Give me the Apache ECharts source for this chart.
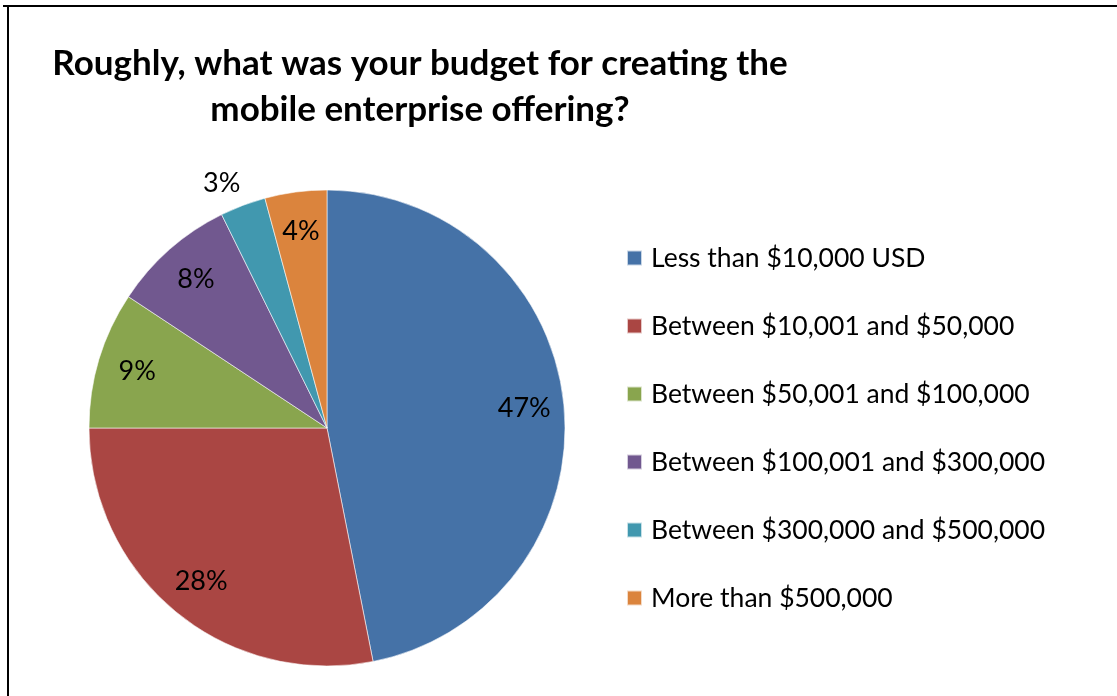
<!DOCTYPE html>
<html>
<head>
<meta charset="utf-8">
<script src="https://cdn.jsdelivr.net/npm/echarts@6/dist/echarts.min.js"></script>
<style>
  html, body { margin: 0; padding: 0; background: #fff; }
  #chart { width: 1117px; height: 696px; }
</style>
</head>
<body>
<div id="chart"></div>
<script>
// Budget brackets and their share of respondents (%)
const categories = [
  'Less than $10,000 USD',
  'Between $10,001 and $50,000',
  'Between $50,001 and $100,000',
  'Between $100,001 and $300,000',
  'Between $300,000 and $500,000',
  'More than $500,000'
];
const shares = [46.9, 28.1, 9.3, 8.4, 3.1, 4.2];
const colors = ['#4572A7', '#AA4643', '#89A54E', '#71588F', '#4198AF', '#DB843D'];
// the smallest slice carries its label outside the pie
const outsideLabelIndex = 4;

const FONT = 'Lato';
const CX = 327, CY = 428, R = 238;

const pieData = categories.map((name, i) => ({
  name, value: shares[i], itemStyle: { color: colors[i] }
}));

const chart = echarts.init(document.getElementById('chart'), null, { renderer: 'canvas' });

const labelText = {
  color: '#000', fontFamily: FONT, fontSize: 27,
  formatter: p => Math.round(p.percent) + '%'
};

chart.setOption({
  backgroundColor: '#fff',
  animation: false,
  title: {
    text: 'Roughly, what was your budget for creating the\nmobile enterprise offering?',
    left: 415, top: 36, textAlign: 'center',
    textStyle: { fontFamily: FONT, fontSize: 35, fontWeight: 'bold', color: '#000', lineHeight: 46 }
  },
  legend: {
    orient: 'vertical',
    left: 626, top: 244, padding: 0,
    itemWidth: 15, itemHeight: 15, itemGap: 40,
    icon: 'rect',
    textStyle: { fontFamily: FONT, fontSize: 26.5, color: '#000', lineHeight: 28, padding: [0, 0, 0, 4] },
    data: categories
  },
  graphic: [
    { type: 'line', shape: { x1: 3, y1: 6, x2: 1117, y2: 6 }, style: { stroke: '#000', lineWidth: 2 } },
    { type: 'line', shape: { x1: 8, y1: 5, x2: 8, y2: 696 }, style: { stroke: '#000', lineWidth: 2 } }
  ],
  series: [
    {
      type: 'pie',
      name: 'slices',
      center: [CX, CY], radius: [0, R],
      startAngle: 90, clockwise: true,
      label: { show: false }, labelLine: { show: false },
      itemStyle: { borderColor: 'rgba(255,255,255,0.7)', borderWidth: 0.8 },
      emphasis: { disabled: true },
      data: pieData
    },
    {
      // ring whose middle sits near the outer part of each slice, used only for labels
      type: 'pie',
      name: 'inner-labels',
      center: [CX, CY], radius: [R * 0.64, R],
      startAngle: 90, clockwise: true, silent: true,
      legendHoverLink: false,
      labelLine: { show: false },
      emphasis: { disabled: true },
      data: pieData.map((d, i) => ({
        name: d.name, value: d.value,
        itemStyle: { color: 'rgba(0,0,0,0)' },
        label: Object.assign({ show: i !== outsideLabelIndex, position: 'inside' }, labelText)
      }))
    },
    {
      // ring just outside the pie for the label of the thinnest slice
      type: 'pie',
      name: 'outer-labels',
      center: [CX, CY], radius: [R, R * 1.17],
      startAngle: 90, clockwise: true, silent: true,
      legendHoverLink: false,
      labelLine: { show: false },
      emphasis: { disabled: true },
      data: pieData.map((d, i) => ({
        name: d.name, value: d.value,
        itemStyle: { color: 'rgba(0,0,0,0)' },
        label: Object.assign({ show: i === outsideLabelIndex, position: 'inside', padding: [0, 26, 0, 0] }, labelText)
      }))
    }
  ]
});
</script>
</body>
</html>
